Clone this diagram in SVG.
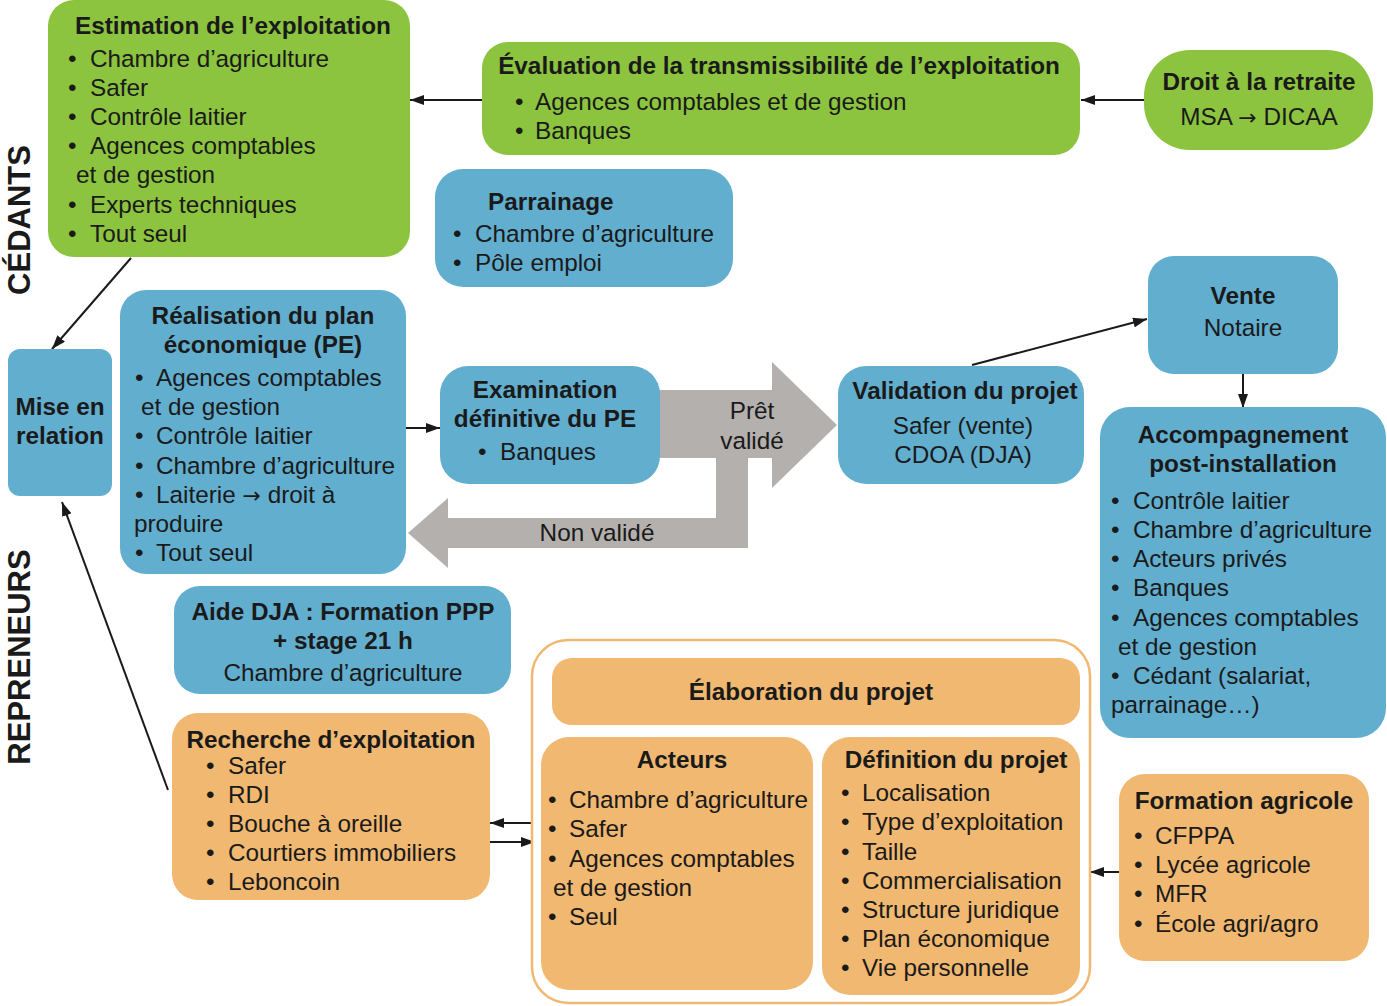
<svg xmlns="http://www.w3.org/2000/svg" width="1387" height="1006" viewBox="0 0 1387 1006">
<defs>
<style>
text{font-family:"Liberation Sans",Arial,sans-serif;font-size:24.3px;fill:#1a1a1a}
.b{font-weight:bold}
.c{text-anchor:middle}
.g{fill:#8cc43f}
.bl{fill:#62aecf}
.o{fill:#f0b870}
.side{font-size:31px;font-weight:bold}
.ar{font-family:"DejaVu Sans",sans-serif;font-size:22px}
.ln{stroke:#1a1a1a;stroke-width:2;fill:none}
</style>
<marker id="ah" viewBox="0 0 14 10" refX="14" refY="5" markerWidth="14" markerHeight="10" markerUnits="userSpaceOnUse" orient="auto">
<path d="M0,0 L14,5 L0,10 z" fill="#1a1a1a"/>
</marker>
</defs>
<rect width="1387" height="1006" fill="#ffffff"/>

<text class="side c" transform="translate(30,220) rotate(-90)">CÉDANTS</text>
<text class="side c" transform="translate(30,657) rotate(-90)">REPRENEURS</text>

<g id="gray-arrows">
<path d="M640,390 L772,390 L772,362 L837,425 L772,488 L772,458 L748,458 L748,548 L448,548 L448,568 L408,533 L448,498 L448,518 L716,518 L716,458 L640,458 z" fill="#b3b0ad"/>
<text class="c" x="752" y="419">Prêt</text>
<text class="c" x="752" y="449">validé</text>
<text class="c" x="597" y="541">Non validé</text>
</g>

<g id="connectors">
<line class="ln" x1="482" y1="100" x2="410" y2="100" marker-end="url(#ah)"/>
<line class="ln" x1="1144" y1="100" x2="1081" y2="100" marker-end="url(#ah)"/>
<line class="ln" x1="131" y1="258" x2="52" y2="349" marker-end="url(#ah)"/>
<line class="ln" x1="168" y1="790" x2="62" y2="502" marker-end="url(#ah)"/>
<line class="ln" x1="406" y1="428" x2="440" y2="428" marker-end="url(#ah)"/>
<line class="ln" x1="972" y1="365" x2="1147" y2="319" marker-end="url(#ah)"/>
<line class="ln" x1="1243" y1="374" x2="1243" y2="408" marker-end="url(#ah)"/>
<line class="ln" x1="535" y1="823" x2="490" y2="823" marker-end="url(#ah)"/>
<line class="ln" x1="490" y1="842" x2="535" y2="842" marker-end="url(#ah)"/>
<line class="ln" x1="1119" y1="872" x2="1090" y2="872" marker-end="url(#ah)"/>
</g>

<g id="estimation">
<rect class="g" x="48" y="0" width="362" height="257" rx="26"/>
<text class="b c" x="233" y="34">Estimation de l’exploitation</text>
<text x="68" y="67">•</text><text x="90" y="67">Chambre d’agriculture</text>
<text x="68" y="96">•</text><text x="90" y="96">Safer</text>
<text x="68" y="125">•</text><text x="90" y="125">Contrôle laitier</text>
<text x="68" y="154">•</text><text x="90" y="154">Agences comptables</text>
<text x="76" y="183">et de gestion</text>
<text x="68" y="213">•</text><text x="90" y="213">Experts techniques</text>
<text x="68" y="242">•</text><text x="90" y="242">Tout seul</text>
</g>

<g id="evaluation">
<rect class="g" x="482" y="42" width="598" height="113" rx="26"/>
<text class="b c" x="779" y="74">Évaluation de la transmissibilité de l’exploitation</text>
<text x="515" y="110">•</text><text x="535" y="110">Agences comptables et de gestion</text>
<text x="515" y="139">•</text><text x="535" y="139">Banques</text>
</g>

<g id="droit-retraite">
<rect class="g" x="1144" y="50" width="229" height="100" rx="46"/>
<text class="b c" x="1259" y="90">Droit à la retraite</text>
<text class="c" x="1259" y="125">MSA <tspan class="ar">→</tspan> DICAA</text>
</g>

<g id="parrainage">
<rect class="bl" x="435" y="169" width="298" height="118" rx="28"/>
<text class="b" x="488" y="210">Parrainage</text>
<text x="453" y="242">•</text><text x="475" y="242">Chambre d’agriculture</text>
<text x="453" y="271">•</text><text x="475" y="271">Pôle emploi</text>
</g>

<g id="mise-en-relation">
<rect class="bl" x="8" y="349" width="104" height="147" rx="12"/>
<text class="b c" x="60" y="415">Mise en</text>
<text class="b c" x="60" y="444">relation</text>
</g>

<g id="realisation">
<rect class="bl" x="120" y="290" width="286" height="284" rx="26"/>
<text class="b c" x="263" y="324">Réalisation du plan</text>
<text class="b c" x="263" y="353">économique (PE)</text>
<text x="135" y="386">•</text><text x="156" y="386">Agences comptables</text>
<text x="141" y="415">et de gestion</text>
<text x="135" y="444">•</text><text x="156" y="444">Contrôle laitier</text>
<text x="135" y="474">•</text><text x="156" y="474">Chambre d’agriculture</text>
<text x="135" y="503">•</text><text x="156" y="503">Laiterie <tspan class="ar">→</tspan> droit à</text>
<text x="134" y="532">produire</text>
<text x="135" y="561">•</text><text x="156" y="561">Tout seul</text>
</g>

<g id="examination">
<rect class="bl" x="440" y="366" width="220" height="118" rx="28"/>
<text class="b c" x="545" y="398">Examination</text>
<text class="b c" x="545" y="427">définitive du PE</text>
<text x="478" y="460">•</text><text x="500" y="460">Banques</text>
</g>

<g id="validation">
<rect class="bl" x="838" y="366" width="246" height="118" rx="28"/>
<text class="b c" x="965" y="399">Validation du projet</text>
<text class="c" x="963" y="434">Safer (vente)</text>
<text class="c" x="963" y="463">CDOA (DJA)</text>
</g>

<g id="vente">
<rect class="bl" x="1148" y="256" width="190" height="118" rx="26"/>
<text class="b c" x="1243" y="304">Vente</text>
<text class="c" x="1243" y="336">Notaire</text>
</g>

<g id="accompagnement">
<rect class="bl" x="1100" y="407" width="286" height="331" rx="30"/>
<text class="b c" x="1243" y="443">Accompagnement</text>
<text class="b c" x="1243" y="472">post-installation</text>
<text x="1111" y="509">•</text><text x="1133" y="509">Contrôle laitier</text>
<text x="1111" y="538">•</text><text x="1133" y="538">Chambre d’agriculture</text>
<text x="1111" y="567">•</text><text x="1133" y="567">Acteurs privés</text>
<text x="1111" y="596">•</text><text x="1133" y="596">Banques</text>
<text x="1111" y="626">•</text><text x="1133" y="626">Agences comptables</text>
<text x="1118" y="655">et de gestion</text>
<text x="1111" y="684">•</text><text x="1133" y="684">Cédant (salariat,</text>
<text x="1111" y="713">parrainage…)</text>
</g>

<g id="aide-dja">
<rect class="bl" x="174" y="586" width="337" height="108" rx="26"/>
<text class="b c" x="343" y="620">Aide DJA : Formation PPP</text>
<text class="b c" x="343" y="649">+ stage 21 h</text>
<text class="c" x="343" y="681">Chambre d’agriculture</text>
</g>

<g id="recherche">
<rect class="o" x="172" y="713" width="318" height="187" rx="26"/>
<text class="b c" x="331" y="748">Recherche d’exploitation</text>
<text x="206" y="774">•</text><text x="228" y="774">Safer</text>
<text x="206" y="803">•</text><text x="228" y="803">RDI</text>
<text x="206" y="832">•</text><text x="228" y="832">Bouche à oreille</text>
<text x="206" y="861">•</text><text x="228" y="861">Courtiers immobiliers</text>
<text x="206" y="890">•</text><text x="228" y="890">Leboncoin</text>
</g>

<g id="elaboration-container">
<rect x="532" y="640" width="558" height="363" rx="36" fill="#ffffff" stroke="#f0b870" stroke-width="2.5"/>
</g>

<g id="elaboration">
<rect class="o" x="552" y="658" width="528" height="67" rx="20"/>
<text class="b c" x="811" y="700">Élaboration du projet</text>
</g>

<g id="acteurs">
<rect class="o" x="541" y="737" width="272" height="253" rx="28"/>
<text class="b c" x="682" y="768">Acteurs</text>
<text x="548" y="808">•</text><text x="569" y="808">Chambre d’agriculture</text>
<text x="548" y="837">•</text><text x="569" y="837">Safer</text>
<text x="548" y="867">•</text><text x="569" y="867">Agences comptables</text>
<text x="553" y="896">et de gestion</text>
<text x="548" y="925">•</text><text x="569" y="925">Seul</text>
</g>

<g id="definition">
<rect class="o" x="822" y="737" width="258" height="258" rx="28"/>
<text class="b c" x="956" y="768">Définition du projet</text>
<text x="841" y="801">•</text><text x="862" y="801">Localisation</text>
<text x="841" y="830">•</text><text x="862" y="830">Type d’exploitation</text>
<text x="841" y="860">•</text><text x="862" y="860">Taille</text>
<text x="841" y="889">•</text><text x="862" y="889">Commercialisation</text>
<text x="841" y="918">•</text><text x="862" y="918">Structure juridique</text>
<text x="841" y="947">•</text><text x="862" y="947">Plan économique</text>
<text x="841" y="976">•</text><text x="862" y="976">Vie personnelle</text>
</g>

<g id="formation">
<rect class="o" x="1119" y="774" width="250" height="187" rx="26"/>
<text class="b c" x="1244" y="809">Formation agricole</text>
<text x="1134" y="844">•</text><text x="1155" y="844">CFPPA</text>
<text x="1134" y="873">•</text><text x="1155" y="873">Lycée agricole</text>
<text x="1134" y="902">•</text><text x="1155" y="902">MFR</text>
<text x="1134" y="932">•</text><text x="1155" y="932">École agri/agro</text>
</g>
</svg>
